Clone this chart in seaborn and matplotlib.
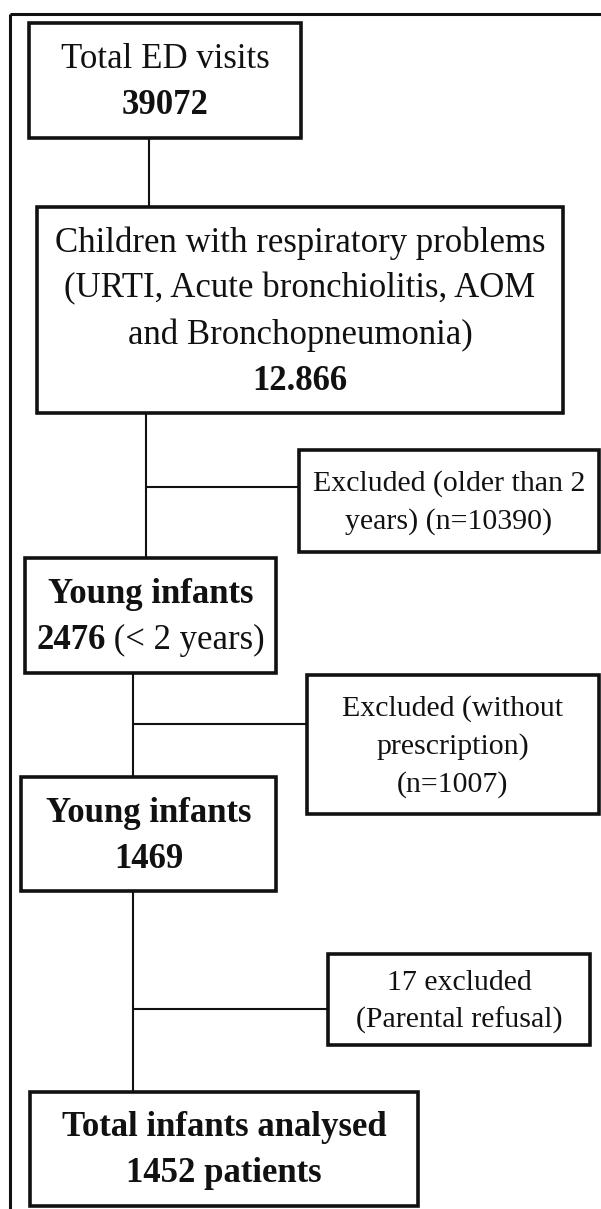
import matplotlib
matplotlib.use("Agg")
import matplotlib.pyplot as plt
import seaborn as sns
from matplotlib.patches import Rectangle

# -----------------------------
# Flowchart content
# -----------------------------
main_titles = [
    "Total ED visits",
    "Children with respiratory problems\n(URTI, Acute bronchiolitis, AOM\nand Bronchopneumonia)",
    "Young infants",
    "Young infants",
    "Total infants analysed",
]
main_counts = ["39072", "12.866", "2476", "1469", "1452 patients"]
count_suffix = ["", "", " (< 2 years)", "", ""]
title_bold = [False, False, True, True, True]

excluded_labels = [
    "Excluded (older than 2\nyears) (n=10390)",
    "Excluded (without\nprescription)\n(n=1007)",
    "17 excluded\n(Parental refusal)",
]

# -----------------------------
# Layout (pixel space: x0, x1, y0, y1)
# -----------------------------
main_boxes = [
    (29, 301, 23, 138),
    (37, 563, 207, 413),
    (25, 276, 558, 673),
    (21, 276, 777, 891),
    (30, 418, 1092, 1206),
]
excl_boxes = [
    (299, 599, 450, 552),
    (307, 599, 675, 814),
    (328, 590, 954, 1045),
]
trunk_x = [149, 146, 133, 133]
branch_y = [None, 487, 724, 1009]

W, H = 601, 1209
sns.set_theme(style="white")
plt.rcParams["font.family"] = ["Liberation Serif", "DejaVu Serif"]

fig = plt.figure(figsize=(W / 100, H / 100), dpi=100)
ax = fig.add_axes([0, 0, 1, 1])
ax.set_xlim(0, W)
ax.set_ylim(H, 0)
ax.axis("off")

BIG, SMALL = 25, 21.5
BIG_GAP, SMALL_GAP = 46, 38
INK = "#111111"

# outer frame (only top and left visible)
ax.plot([9.5, W + 5], [14, 14], color=INK, lw=2.2, solid_capstyle="butt")
ax.plot([9.5, 9.5], [14, H + 5], color=INK, lw=2.2, solid_capstyle="butt")

renderer = fig.canvas.get_renderer()


def draw_lines(box, lines, size, gap):
    x0, x1, y0, y1 = box
    cx, cy = (x0 + x1) / 2, (y0 + y1) / 2 + 2
    n = len(lines)
    for i, parts in enumerate(lines):
        y = cy + (i - (n - 1) / 2) * gap
        texts = [ax.text(0, y, s, fontsize=size, weight=w, color=INK,
                         ha="left", va="center") for s, w in parts if s]
        widths = [t.get_window_extent(renderer).width for t in texts]
        x = cx - sum(widths) / 2
        for t, w in zip(texts, widths):
            t.set_x(x)
            x += w


# main boxes
for i, box in enumerate(main_boxes):
    x0, x1, y0, y1 = box
    ax.add_patch(Rectangle((x0, y0), x1 - x0, y1 - y0, fill=False,
                           ec=INK, lw=2.6, zorder=3))
    w = "bold" if title_bold[i] else "normal"
    lines = [[(s, w)] for s in main_titles[i].split("\n")]
    lines.append([(main_counts[i], "bold"), (count_suffix[i], "normal")])
    draw_lines(box, lines, BIG, BIG_GAP)

# trunk connectors
for i in range(4):
    ax.plot([trunk_x[i], trunk_x[i]], [main_boxes[i][3], main_boxes[i + 1][2]],
            color=INK, lw=1.5, zorder=2)

# exclusion boxes and branches
for j, box in enumerate(excl_boxes):
    x0, x1, y0, y1 = box
    ax.add_patch(Rectangle((x0, y0), x1 - x0, y1 - y0, fill=False,
                           ec=INK, lw=2.6, zorder=3))
    ax.plot([trunk_x[j + 1], x0], [branch_y[j + 1], branch_y[j + 1]],
            color=INK, lw=1.5, zorder=2)
    lines = [[(s, "normal")] for s in excluded_labels[j].split("\n")]
    draw_lines(box, lines, SMALL, SMALL_GAP)

fig.savefig("out.png", dpi=100, facecolor="white")
